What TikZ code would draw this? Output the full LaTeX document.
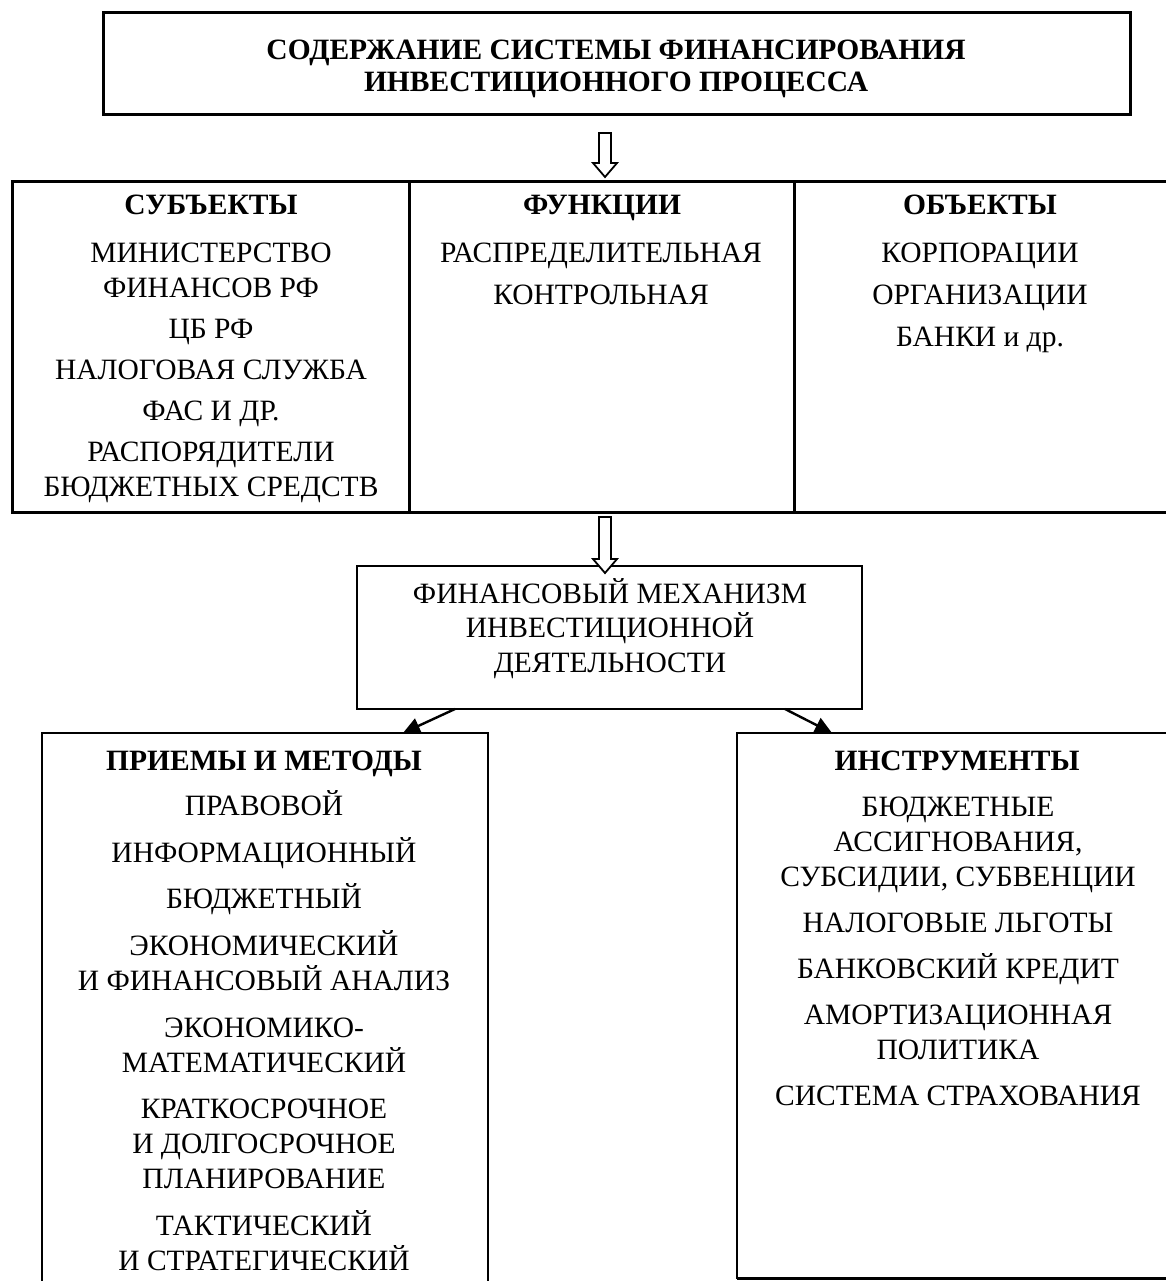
\documentclass[tikz,border=0pt]{standalone}
\usepackage{fontspec}
\setmainfont{Liberation Serif}
\usetikzlibrary{arrows.meta}
\begin{document}
\begin{tikzpicture}[x=1pt,y=-1pt,
  box/.style={draw, rectangle, inner sep=0pt, outer sep=0pt},
  txt/.style={font=\fontsize{29.5}{35}\selectfont, anchor=base, inner sep=0pt},
  hd/.style={font=\fontsize{29.5}{35}\selectfont\bfseries, anchor=base, inner sep=0pt},
  ttl/.style={font=\fontsize{29.5}{34}\selectfont\bfseries, anchor=base, inner sep=0pt},
  hollow/.style={draw, line width=1.8pt, fill=white, line join=miter},
  fa/.style={line width=2.4pt, -{Triangle[length=17pt,width=16pt]}}]
\useasboundingbox (0,0) rectangle (1166,1281);

% title box
\node[box, line width=3pt, minimum width=1027pt, minimum height=102pt] (title) at (616.5,64) {};
\node[ttl] (t1) at (616,60) {СОДЕРЖАНИЕ СИСТЕМЫ ФИНАНСИРОВАНИЯ};
\node[ttl] (t2) at (616,92) {ИНВЕСТИЦИОННОГО ПРОЦЕССА};

% three-column row
\node[box, line width=3pt, minimum width=397pt, minimum height=330pt] (subj) at (210.5,347) {};
\node[box, line width=3pt, minimum width=385pt, minimum height=330pt] (func) at (601.5,347) {};
\node[box, line width=3pt, minimum width=380pt, minimum height=330pt] (obj) at (984,347) {};

\node[hd] (sh) at (211,215) {СУБЪЕКТЫ};
\foreach \yy/\tt [count=\i] in {262/МИНИСТЕРСТВО, 297/ФИНАНСОВ РФ, 338/ЦБ РФ,
    379/НАЛОГОВАЯ СЛУЖБА, 420/ФАС И ДР., 461/РАСПОРЯДИТЕЛИ, 496/БЮДЖЕТНЫХ СРЕДСТВ}
  \node[txt] (s\i) at (211,\yy) {\tt};

\node[hd] (fh) at (602,215) {ФУНКЦИИ};
\node[txt] (f1) at (601,262) {РАСПРЕДЕЛИТЕЛЬНАЯ};
\node[txt] (f2) at (601,304) {КОНТРОЛЬНАЯ};

\node[hd] (oh) at (980,215) {ОБЪЕКТЫ};
\node[txt] (o1) at (980,262) {КОРПОРАЦИИ};
\node[txt] (o2) at (980,304) {ОРГАНИЗАЦИИ};
\node[txt] (o3) at (980,346) {БАНКИ и др.};

% mechanism box
\node[box, line width=2pt, minimum width=505pt, minimum height=143pt] (mech) at (609.5,637.5) {};
\node[txt] (m1) at (610,603) {ФИНАНСОВЫЙ МЕХАНИЗМ};
\node[txt] (m2) at (610,637) {ИНВЕСТИЦИОННОЙ};
\node[txt] (m3) at (610,672) {ДЕЯТЕЛЬНОСТИ};

% lower boxes
\node[box, line width=1.8pt, minimum width=446pt, minimum height=580pt] (meth) at (265,1023) {};
\node[box, line width=2pt, minimum width=443pt, minimum height=545pt] (instr) at (958.5,1005.5) {};
\draw[line width=3pt] (instr.south west) -- (instr.south east);

\node[hd] (mh) at (264,770) {ПРИЕМЫ И МЕТОДЫ};
\foreach \yy/\tt [count=\i] in {815/ПРАВОВОЙ, 862/ИНФОРМАЦИОННЫЙ, 908/БЮДЖЕТНЫЙ,
    955/ЭКОНОМИЧЕСКИЙ, 990/И ФИНАНСОВЫЙ АНАЛИЗ, 1037/ЭКОНОМИКО-, 1072/МАТЕМАТИЧЕСКИЙ,
    1118/КРАТКОСРОЧНОЕ, 1153/И ДОЛГОСРОЧНОЕ, 1188/ПЛАНИРОВАНИЕ,
    1235/ТАКТИЧЕСКИЙ, 1270/И СТРАТЕГИЧЕСКИЙ}
  \node[txt] (p\i) at (264,\yy) {\tt};

\node[hd] (ih) at (957,770) {ИНСТРУМЕНТЫ};
\foreach \yy/\tt [count=\i] in {816/БЮДЖЕТНЫЕ, 851/{АССИГНОВАНИЯ,}, 886/{СУБСИДИИ, СУБВЕНЦИИ},
    932/НАЛОГОВЫЕ ЛЬГОТЫ, 978/БАНКОВСКИЙ КРЕДИТ, 1024/АМОРТИЗАЦИОННАЯ,
    1059/ПОЛИТИКА, 1105/СИСТЕМА СТРАХОВАНИЯ}
  \node[txt] (q\i) at (958,\yy) {\tt};

% hollow block arrows
\draw[hollow] (599,133) -- (611,133) -- (611,163) -- (617,163) -- (605,177)
  -- (593,163) -- (599,163) -- cycle;
\draw[hollow] (599,517) -- (611,517) -- (611,559) -- (617,559) -- (605,573)
  -- (593,559) -- (599,559) -- cycle;

% arrows from the mechanism to the lower boxes
\coordinate (la) at (455,709);
\coordinate (lb) at (403,733);
\coordinate (ra) at (785,709);
\coordinate (rb) at (832,733);
\draw[fa] (la) -- (lb);
\draw[fa] (ra) -- (rb);
\end{tikzpicture}
\end{document}
